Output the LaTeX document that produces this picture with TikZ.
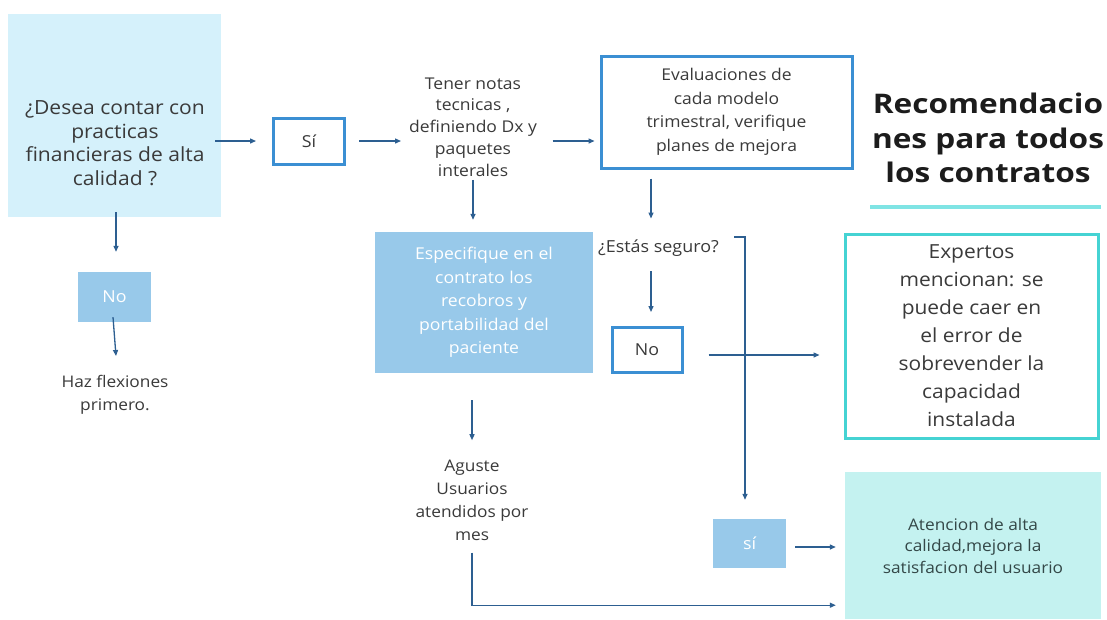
\documentclass[tikz,border=0pt]{standalone}
\usepackage{fontspec}
\setmainfont[FakeStretch=1.08]{Open Sans}
\newfontfamily\titlefont[FakeStretch=1.17]{Open Sans}
\usetikzlibrary{arrows.meta,calc}
\definecolor{skyfill}{HTML}{D5F1FB}
\definecolor{midblue}{HTML}{98C9EA}
\definecolor{outblue}{HTML}{3B8FD3}
\definecolor{cyanline}{HTML}{45D3D3}
\definecolor{cyanfill}{HTML}{C4F2F0}
\definecolor{arrowblue}{HTML}{2D5F91}
\definecolor{txt}{HTML}{3A3A3A}
\definecolor{tealtxt}{HTML}{344848}
\definecolor{underl}{HTML}{7FE4E4}
\definecolor{titletxt}{HTML}{1C1C1C}
\begin{document}
\begin{tikzpicture}[x=1pt,y=-1pt,
 arr/.style={draw=arrowblue,line width=1.3pt,-{Triangle[length=6pt,width=5pt]}},
 fillbox/.style={draw=none,inner sep=0pt,align=center},
 outbox/.style={draw=outblue,line width=3pt,fill=white,inner sep=0pt,align=center,text=txt},
 lbl/.style={text=txt,align=center,inner sep=0pt},
 small/.style={font=\fontsize{16.5}{18}\selectfont}]
\fill[white] (0,0) rectangle (1107,619);
\useasboundingbox (0,0) rectangle (1107,619);

% left column
\node[fillbox,fill=skyfill,minimum width=213pt,minimum height=203pt] (q) at (114.5,115.5) {};
\node[lbl,font=\fontsize{19.5}{23.5}\selectfont] (qt) at (115,143) {¿Desea contar con\\practicas\\financieras de alta\\calidad ?};
\node[fillbox,fill=midblue,minimum width=73pt,minimum height=50pt,text=white,small] (no1) at (114.5,297) {No};
\node[lbl,font=\fontsize{16}{23.5}\selectfont] (haz) at (115,395) {Haz flexiones\\primero.};

% top row
\node[outbox,minimum width=71pt,minimum height=46pt,small] (si) at (309,141) {Sí};
\node[lbl,font=\fontsize{16.2}{21.8}\selectfont] (tener) at (473,127) {Tener notas\\tecnicas ,\\definiendo Dx y\\paquetes\\interales};
\node[outbox,minimum width=251pt,minimum height=112pt,font=\fontsize{16.2}{23.5}\selectfont] (eval) at (726.5,112) {Evaluaciones de\\cada modelo\\trimestral, verifique\\planes de mejora};

% title
\node[inner sep=0pt,align=center,text=titletxt,font=\titlefont\bfseries\fontsize{27}{34.5}\selectfont] (title) at (988,138) {Recomendacio\\nes para todos\\los contratos};
\draw[draw=underl,line width=4pt] (870,207) -- (1101,207);

% middle
\node[fillbox,fill=midblue,minimum width=218pt,minimum height=141pt,text=white,font=\fontsize{16.3}{23.5}\selectfont] (espec) at (484,302.5) {Especifique en el\\contrato los\\recobros y\\portabilidad del\\paciente};
\node[lbl,font=\fontsize{16.6}{18}\selectfont] (estas) at (658.5,248) {¿Estás seguro?};
\node[outbox,minimum width=70pt,minimum height=45pt,small] (no2) at (647,350) {No};
\node[lbl,draw=cyanline,line width=3pt,fill=white,minimum width=253pt,minimum height=204pt,font=\fontsize{19.4}{28}\selectfont] (exp) at (971.5,336) {Expertos\\mencionan: se\\puede caer en\\el error de\\sobrevender la\\capacidad\\instalada};

% bottom
\node[lbl,font=\fontsize{16}{23}\selectfont] (aguste) at (472,500) {Aguste\\Usuarios\\atendidos por\\mes};
\node[fillbox,fill=midblue,minimum width=73pt,minimum height=49pt,text=white,small] (si2) at (749.5,543.5) {sí};
\node[fillbox,fill=cyanfill,minimum width=256pt,minimum height=147pt,text=tealtxt,font=\fontsize{16}{21.5}\selectfont] (aten) at (973,545.5) {Atencion de alta\\calidad,mejora la\\satisfacion del usuario};

% connectors
\draw[arr] ($(q.east |- si.west)+(-6,0)$) -- ($(si.west)+(-16,0)$);
\draw[arr] ($(si.east)+(13,0)$) -- ($(si.east)+(55,0)$);
\draw[arr] ($(eval.west |- si.east)+(-47,0)$) -- ($(eval.west |- si.east)+(-5,0)$);
\draw[arr] ($(espec.north -| tener.south)+(0,-52)$) -- ($(espec.north -| tener.south)+(0,-12)$);
\draw[arr] ($(eval.south)+(-75.5,9)$) -- ($(eval.south)+(-75.5,49)$);
\coordinate (brk) at ($(estas.east)+(15,-11)$);
\draw[arr] (brk) -| ($(si2.north)+(-4.5,-19)$);
\draw[arr] ($(no2.north)+(4,-55)$) -- ($(no2.north)+(4,-14)$);
\draw[arr] ($(no2.east)+(25,5)$) -- ($(exp.west |- no2.east)+(-24,5)$);
\draw[arr] ($(espec.south -| aguste.south)+(0,27)$) -- ($(espec.south -| aguste.south)+(0,67)$);
\draw[arr] ($(aguste.south)+(0,12)$) |- ($(aten.south west)+(-9,-14)$);
\draw[arr] ($(si2.east)+(9,3.5)$) -- ($(aten.west |- si2.east)+(-9,3.5)$);
\draw[arr] ($(q.south -| no1.north)+(1.5,-5)$) -- ($(no1.north)+(1.5,-20)$);
\draw[arr] ($(no1.south)+(-1.5,-5)$) -- ($(haz.north)+(1,-19)$);
\end{tikzpicture}
\end{document}
